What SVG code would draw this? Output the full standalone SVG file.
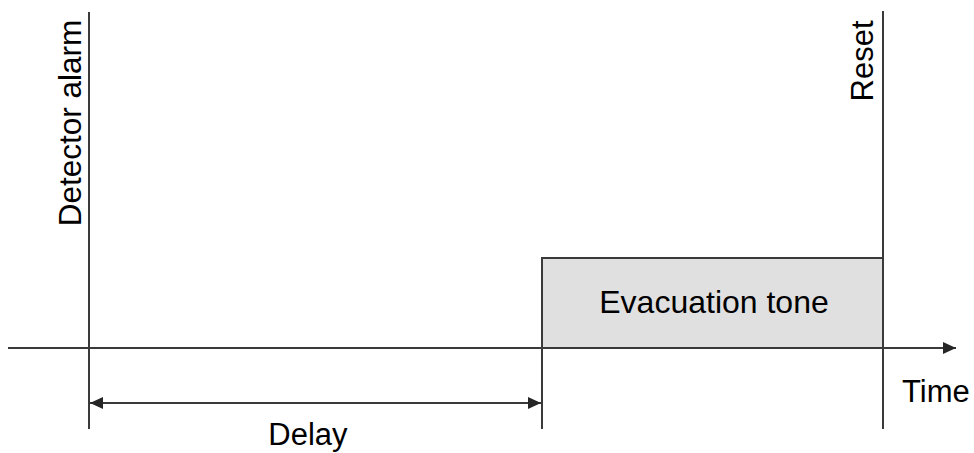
<svg xmlns="http://www.w3.org/2000/svg" width="974" height="453" viewBox="0 0 974 453">
<style>
.ln{stroke:#3a3a3a;stroke-width:2;fill:none}
.tx{font-family:"Liberation Sans",Arial,sans-serif;font-size:31px;fill:#000}
</style>
<defs>
<marker id="ah" markerWidth="14" markerHeight="12" refX="13" refY="6" orient="auto-start-reverse" markerUnits="userSpaceOnUse">
<path d="M0,0 L13,6 L0,12 z" fill="#262626"/>
</marker>
</defs>
<rect width="974" height="453" fill="#fff"/>
<g id="evacuation">
<rect x="542" y="258" width="341" height="90" fill="#e0e0e0" stroke="#3a3a3a" stroke-width="2"/>
<text class="tx" x="714" y="313" text-anchor="middle" style="font-size:32px">Evacuation tone</text>
</g>
<g id="connectors">
<line class="ln" x1="8" y1="348" x2="956" y2="348" marker-end="url(#ah)"/>
<line class="ln" x1="89" y1="12" x2="89" y2="429"/>
<line class="ln" x1="542" y1="258" x2="542" y2="429"/>
<line class="ln" x1="883" y1="11" x2="883" y2="429"/>
<line class="ln" x1="90" y1="403" x2="541" y2="403" marker-start="url(#ah)" marker-end="url(#ah)"/>
</g>
<g id="detector">
<text class="tx" transform="translate(81,123) rotate(-90)" text-anchor="middle" style="font-size:31.5px">Detector alarm</text>
</g>
<g id="reset">
<text class="tx" transform="translate(873,61) rotate(-90)" text-anchor="middle">Reset</text>
</g>
<g id="time">
<text class="tx" x="902" y="402">Time</text>
</g>
<g id="delay">
<text class="tx" x="308" y="445" text-anchor="middle">Delay</text>
</g>
</svg>
